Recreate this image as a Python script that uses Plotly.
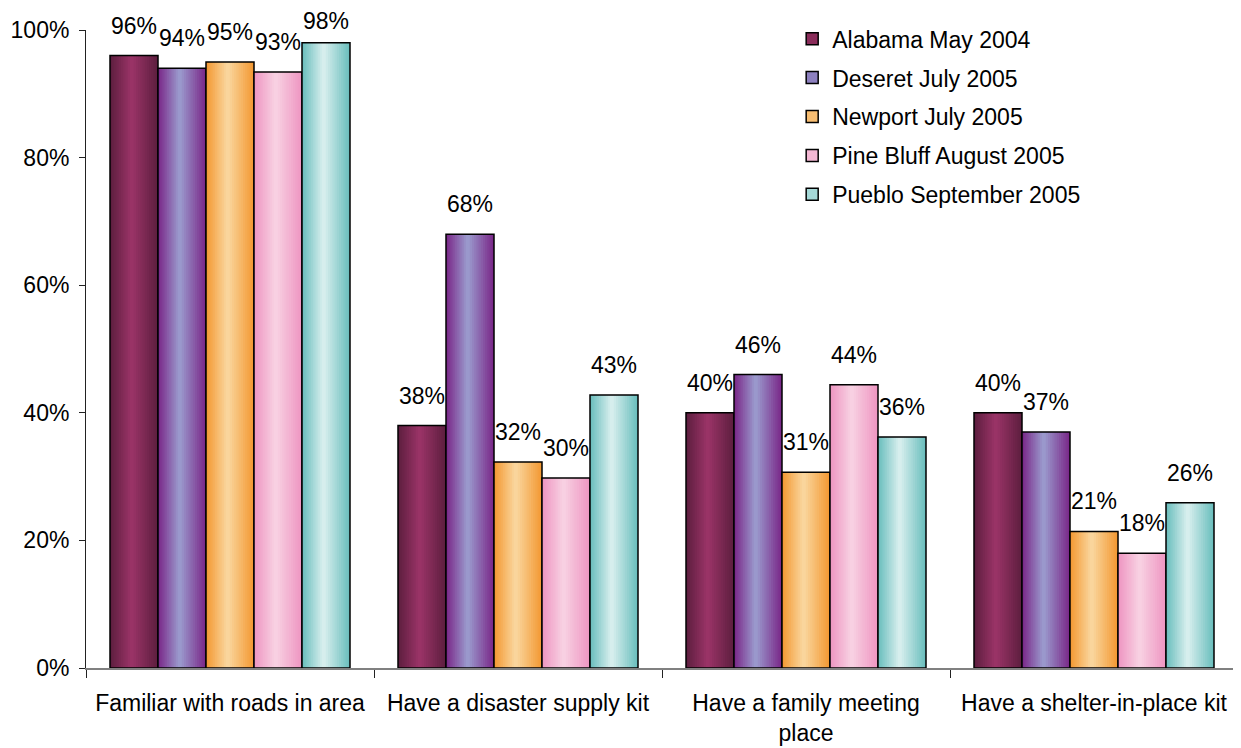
import plotly.graph_objects as go

categories = ["Familiar with roads in area", "Have a disaster supply kit",
              "Have a family meeting<br>place", "Have a shelter-in-place kit"]
series_names = ["Alabama May 2004", "Deseret July 2005", "Newport July 2005",
                "Pine Bluff August 2005", "Pueblo September 2005"]
alabama = [0.96, 0.38, 0.40, 0.40]
deseret = [0.94, 0.68, 0.46, 0.37]
newport = [0.95, 0.323, 0.307, 0.214]
pine_bluff = [0.934, 0.298, 0.444, 0.18]
pueblo = [0.98, 0.428, 0.362, 0.259]
values = [alabama, deseret, newport, pine_bluff, pueblo]

edge_colors = ["#5f1f40", "#7a2a8a", "#f39a35", "#ee97c2", "#6cbfbe"]
center_colors = ["#993366", "#9a98cc", "#fad59c", "#f8d0e2", "#d6eeed"]
legend_colors = ["#8a2c5a", "#8d80bf", "#f8be72", "#f4b8d4", "#a5d9d8"]

FONT = "Liberation Sans, Arial, sans-serif"
FS = 23
W, H = 1233, 740
M = dict(l=78, r=3, t=22, b=80)
PLOT_H = H - M["t"] - M["b"]


def hex2rgb(h):
    h = h.lstrip("#")
    return [int(h[i:i + 2], 16) for i in (0, 2, 4)]


def lerp(c1, c2, t):
    a, b = hex2rgb(c1), hex2rgb(c2)
    return "rgb(%d,%d,%d)" % tuple(round(a[i] + (b[i] - a[i]) * t) for i in range(3))


fig = go.Figure()
n_series = len(series_names)
group = 5 / 6
bw = group / n_series
N = 12
c = 0.45
annotations = []

for i, name in enumerate(series_names):
    left = -group / 2 + i * bw
    ys = values[i]
    # gradient layers
    for k in range(N):
        a = k / N * c
        b = 1 - k / N * (1 - c)
        fig.add_trace(go.Bar(
            x=categories, y=ys, width=(b - a) * bw, offset=left + a * bw,
            marker=dict(color=lerp(edge_colors[i], center_colors[i], k / (N - 1)), line=dict(width=0)),
            showlegend=False, hoverinfo="skip"))
    # outline layer
    fig.add_trace(go.Bar(
        x=categories, y=ys, width=bw, offset=left,
        marker=dict(color="rgba(0,0,0,0)", line=dict(color="#000000", width=1.5)),
        showlegend=False, name=name))
    # legend entry
    fig.add_trace(go.Bar(
        x=categories, y=[None] * len(categories), width=bw, offset=left,
        name=name, legendgroup=name,
        marker=dict(color=legend_colors[i], line=dict(color="#000000", width=1.5)),
        showlegend=True))
    # data labels above bars
    for j, v in enumerate(ys):
        top_px = M["t"] + (1 - v) * PLOT_H
        shift = min(30, top_px - 13)
        annotations.append(dict(
            x=j + left + bw / 2, y=v, xref="x", yref="y",
            text="%d%%" % round(v * 100), showarrow=False,
            yanchor="middle", xanchor="center", yshift=shift,
            font=dict(family=FONT, size=FS, color="#000000")))

fig.update_layout(
    width=W, height=H,
    barmode="overlay",
    plot_bgcolor="white", paper_bgcolor="white",
    margin=dict(**M, autoexpand=False),
    font=dict(family=FONT, size=FS, color="#000000"),
    annotations=annotations,
    legend=dict(x=0.613, y=1.02, xanchor="left", yanchor="top",
                font=dict(family=FONT, size=FS), tracegroupgap=6,
                bgcolor="rgba(0,0,0,0)"),
)
fig.update_yaxes(range=[0, 1], dtick=0.2, tickformat=".0%", showgrid=False,
                 showline=True, linecolor="#222222", linewidth=1,
                 ticks="outside", ticklen=6, tickcolor="#222222",
                 ticklabelstandoff=5, zeroline=False, automargin=False,
                 tickfont=dict(family=FONT, size=FS))
fig.update_xaxes(showgrid=False, showline=True, linecolor="#808080", linewidth=1.5,
                 ticks="outside", tickson="boundaries", ticklen=8, tickcolor="#222222",
                 automargin=False, ticklabelstandoff=14,
                 tickfont=dict(family=FONT, size=FS), range=[-0.5, 3.5])

fig.write_html("out.html")
